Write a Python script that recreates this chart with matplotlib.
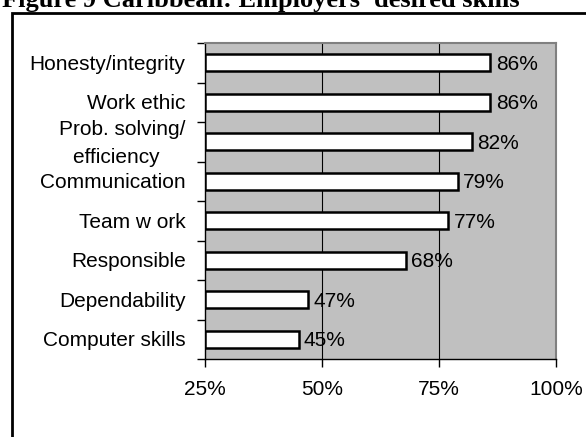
import matplotlib.pyplot as plt
from matplotlib.patches import Rectangle

skills = ['Honesty/integrity', 'Work ethic', 'Prob. solving/\nefficiency  ',
          'Communication', 'Team w ork', 'Responsible', 'Dependability',
          'Computer skills']
values = [86, 86, 82, 79, 77, 68, 47, 45]
xticks = [25, 50, 75, 100]
xtick_labels = ['25%', '50%', '75%', '100%']

W, H = 586, 437
fig = plt.figure(figsize=(W / 100, H / 100), dpi=100)
plt.rcParams['font.family'] = ['Liberation Sans', 'DejaVu Sans']

# outer frame, runs off the right and bottom edge of the picture
fig.patches.append(Rectangle((12 / W, -0.1), 1.2, 1 - 13 / H + 0.1,
                             transform=fig.transFigure, fill=False,
                             edgecolor='black', linewidth=2))
fig.text(2 / W, 1 - 7 / H, "Figure 9 Caribbean: Employers' desired skills",
         family='Liberation Serif', fontweight='bold', fontsize=19,
         va='baseline', ha='left')

ax = fig.add_axes([205 / W, 1 - 359 / H, (556 - 205) / W, (359 - 43) / H])
ax.set_facecolor('#c0c0c0')

n = len(skills)
pos = [n - 1 - i for i in range(n)]
ax.barh(pos, [v - 25 for v in values], left=25, height=0.44,
        color='white', edgecolor='black', linewidth=1.8, zorder=3)
for p, v in zip(pos, values):
    ax.text(v + 1.1, p - 0.04, f'{v}%', va='center', ha='left', fontsize=15,
            zorder=4)

ax.set_xlim(25, 100)
ax.set_ylim(-0.5, n - 0.5)
ax.set_xticks(xticks)
ax.set_xticklabels(xtick_labels, fontsize=15)
for x in [50, 75]:
    ax.axvline(x, color='black', linewidth=0.8, zorder=1)

ax.set_yticks([i - 0.5 for i in range(n + 1)])
ax.set_yticklabels([])
for p, s in zip(pos, skills):
    ax.text(-0.055, p - 0.04, s, transform=ax.get_yaxis_transform(),
            ha='right', va='center', fontsize=15, multialignment='center',
            linespacing=1.6)

ax.tick_params(axis='y', length=6, width=1, direction='out')
ax.tick_params(axis='x', length=6, width=1, direction='out', pad=9)
for side in ['top', 'right']:
    ax.spines[side].set_color('#808080')
    ax.spines[side].set_linewidth(1.5)
for side in ['left', 'bottom']:
    ax.spines[side].set_color('black')
    ax.spines[side].set_linewidth(1)

fig.savefig('out.png', dpi=100)
